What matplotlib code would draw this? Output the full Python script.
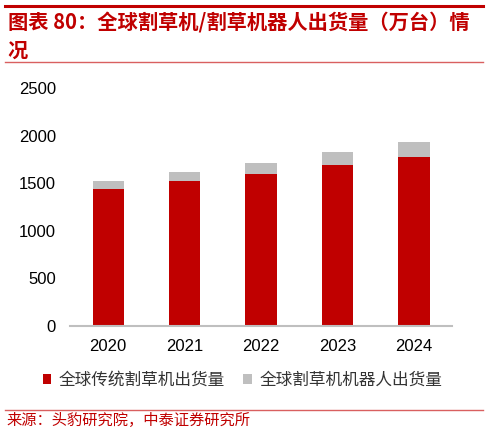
import matplotlib.pyplot as plt
import numpy as np

plt.rcParams['font.family'] = ['Liberation Sans', 'Noto Sans CJK SC', 'DejaVu Sans']

years = ['2020', '2021', '2022', '2023', '2024']
traditional = [1440, 1520, 1595, 1688, 1778]
robot = [82, 95, 115, 138, 152]
series_names = ['全球传统割草机出货量', '全球割草机机器人出货量']
title = '图表 80：全球割草机/割草机器人出货量（万台）情\n况'
source = '来源：头豹研究院，中泰证券研究所'

red = '#C00000'
grey = '#BFBFBF'
cjk = ['Noto Sans CJK SC', 'DejaVu Sans']

fig = plt.figure(figsize=(4.88, 4.33), dpi=100)
ax = fig.add_axes([0.1434, 0.247, 0.783, 0.5497])

x = np.arange(len(years))
w = 0.41
ax.bar(x, traditional, w, color=red, label=series_names[0], zorder=2)
ax.bar(x, robot, w, bottom=traditional, color=grey, label=series_names[1], zorder=2)

ax.set_xlim(-0.5, len(years) - 0.5)
ax.set_ylim(0, 2500)
ax.set_yticks(np.arange(0, 2501, 500))
ax.set_xticks(x)
ax.set_xticklabels(years)
ax.tick_params(axis='both', length=0, labelsize=12, colors='#000000')
ax.tick_params(axis='x', pad=9)
ax.tick_params(axis='y', pad=10)
for s in ['top', 'right', 'left']:
    ax.spines[s].set_visible(False)
ax.spines['bottom'].set_color(grey)
ax.spines['bottom'].set_linewidth(1.5)

leg = fig.legend(loc='center', bbox_to_anchor=(0.497, 0.122), ncol=2, frameon=False,
                 handlelength=0.5, handleheight=0.5, handletextpad=0.45, columnspacing=1.1,
                 prop={'family': cjk, 'size': 12})
for t in leg.get_texts():
    t.set_color('#333333')

# header / footer
fig.add_artist(plt.Line2D([0.01, 0.99], [1 - 6 / 433, 1 - 6 / 433], color=red, lw=2.2))
fig.add_artist(plt.Line2D([0.01, 0.99], [1 - 62 / 433, 1 - 62 / 433], color='#D96060', lw=1))
fig.add_artist(plt.Line2D([0.01, 0.99], [1 - 410 / 433, 1 - 410 / 433], color='#D96060', lw=1))
fig.text(0.016, 1 - 12 / 433, title, color=red, fontsize=14.6, fontweight='bold',
         family=cjk, va='top', ha='left', linespacing=1.4)
fig.text(0.014, 1 - 420 / 433, source, color=red, fontsize=11, family=cjk,
         va='center', ha='left')

plt.savefig('out.png', dpi=100)
